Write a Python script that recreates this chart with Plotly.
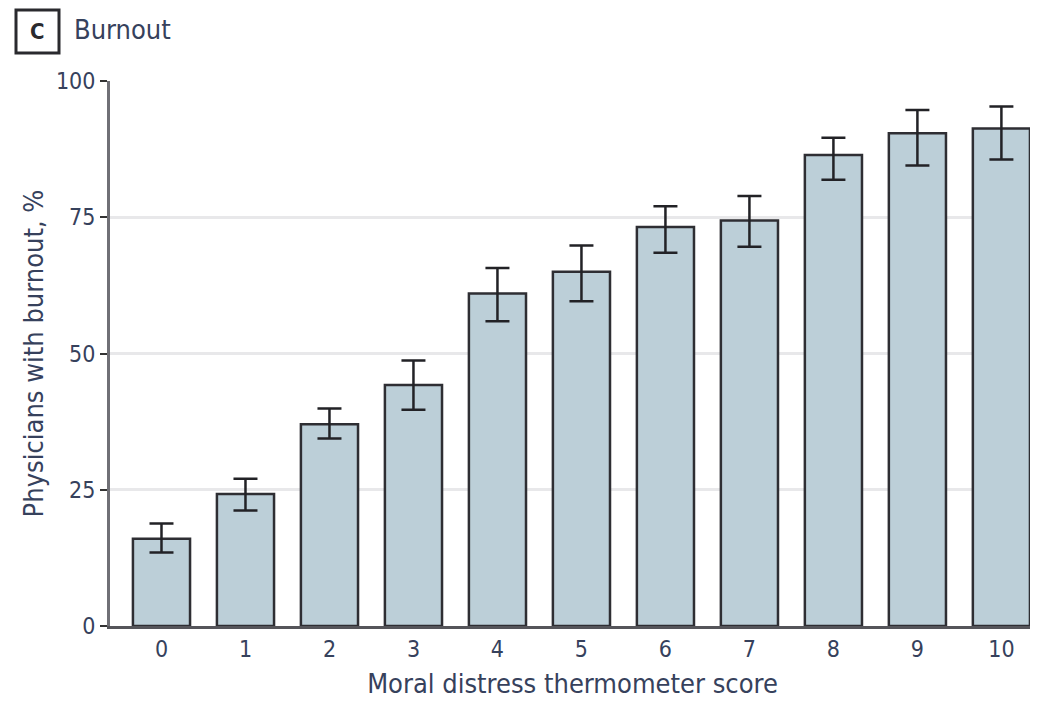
import plotly.graph_objects as go

scores = ["0", "1", "2", "3", "4", "5", "6", "7", "8", "9", "10"]
burnout_pct = [16.0, 24.2, 37.0, 44.2, 61.0, 65.0, 73.2, 74.4, 86.4, 90.4, 91.3]
ci_upper = [18.8, 27.0, 39.9, 48.7, 65.7, 69.8, 77.0, 78.9, 89.6, 94.7, 95.3]
ci_lower = [13.5, 21.2, 34.4, 39.7, 55.9, 59.6, 68.5, 69.6, 81.9, 84.5, 85.6]
y_ticks = [0, 25, 50, 75, 100]

err_plus = [u - v for u, v in zip(ci_upper, burnout_pct)]
err_minus = [v - l for v, l in zip(burnout_pct, ci_lower)]

FONT = "DejaVu Sans Condensed, Liberation Sans Narrow, Liberation Sans, sans-serif"
TXT = "#36415c"

PW, PH = 925, 545  # plot area size in px

fig = go.Figure()
fig.add_trace(go.Bar(
    x=list(range(len(scores))),
    y=burnout_pct,
    marker=dict(color="#bccfd8", line=dict(color="#2e2e33", width=2.5)),
    error_y=dict(type="data", symmetric=False, array=err_plus, arrayminus=err_minus,
                 color="#222226", thickness=2.5, width=12),
    showlegend=False,
))

fig.update_layout(
    width=1030, height=697,
    margin=dict(l=102, r=3, t=73, b=79),
    paper_bgcolor="white", plot_bgcolor="white",
    bargap=0.32,
    font=dict(family=FONT, color=TXT, size=23),
    xaxis=dict(
        range=[-0.613, 10.4],
        tickvals=list(range(len(scores))), ticktext=scores,
        showgrid=False, zeroline=False,
        showline=True, linecolor="#55555a", linewidth=3,
        ticks="", tickfont=dict(size=23, family=FONT, color=TXT),
        title=dict(text="Moral distress thermometer score",
                   font=dict(size=27, family=FONT, color=TXT), standoff=14),
    ),
    yaxis=dict(
        range=[0, 100],
        tickvals=y_ticks,
        showgrid=True, gridcolor="#e8e8ea", gridwidth=3,
        zeroline=False,
        showline=True, linecolor="#707076", linewidth=3,
        ticks="outside", ticklen=7, tickwidth=2, tickcolor="#333",
        tickfont=dict(size=23, family=FONT, color=TXT),
        title=dict(text="Physicians with burnout, %",
                   font=dict(size=27, family=FONT, color=TXT), standoff=5),
    ),
)

# Panel label "C" in a box and panel title
fig.add_shape(type="rect", xref="paper", yref="paper",
              x0=-94/PW, x1=-51/PW, y0=1 + 28/PH, y1=1 + 71/PH,
              line=dict(color="#2a2a2e", width=3), fillcolor="white")
fig.add_annotation(text="<b>C</b>", xref="paper", yref="paper",
                   x=-72.5/PW, y=1 + 50/PH, showarrow=False,
                   font=dict(size=22, family=FONT, color="#2a2a2e"),
                   xanchor="center", yanchor="middle")
fig.add_annotation(text="Burnout", xref="paper", yref="paper",
                   x=-38/PW, y=1 + 51/PH, showarrow=False,
                   font=dict(size=27, family=FONT, color=TXT),
                   xanchor="left", yanchor="middle")

fig.write_html("out.html")
